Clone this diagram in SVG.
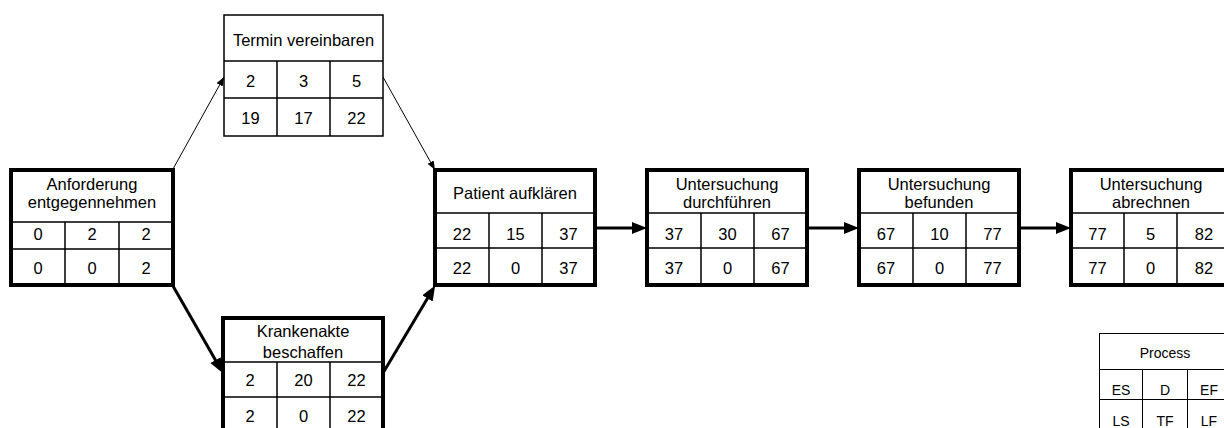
<svg xmlns="http://www.w3.org/2000/svg" width="1224" height="428" viewBox="0 0 1224 428">
  <style>
    text { font-family: "Liberation Sans", Arial, sans-serif; font-size: 16.5px; fill: #000; text-anchor: middle; }
    .box { fill: #fff; stroke: #000; }
    .crit { stroke-width: 4; }
    .norm { stroke-width: 1.5; }
    .grid { stroke: #000; stroke-width: 1.5; fill: none; }
    .thin { stroke: #000; stroke-width: 1; fill: none; }
    .bold { stroke: #000; stroke-width: 3; fill: none; }
    .legend text { font-size: 14px; }
  </style>
  <defs>
    <marker id="arrowBold" markerUnits="userSpaceOnUse" markerWidth="16" markerHeight="13" refX="1" refY="6" orient="auto">
      <path d="M0,0 L15,6 L0,12 z" fill="#000"/>
    </marker>
    <marker id="arrowThin" markerUnits="userSpaceOnUse" markerWidth="10" markerHeight="8" refX="9" refY="3.5" orient="auto">
      <path d="M0,0 L9,3.5 L0,7 z" fill="#000"/>
    </marker>
  </defs>
  <rect width="1224" height="428" fill="#fff"/>

  <!-- connectors -->
  <g id="connectors">
    <line class="thin" x1="173" y1="169" x2="224" y2="77" marker-end="url(#arrowThin)"/>
    <line class="thin" x1="383" y1="77" x2="435" y2="170" marker-end="url(#arrowThin)"/>
    <line class="bold" x1="173" y1="286" x2="216" y2="361" marker-end="url(#arrowBold)"/>
    <line class="bold" x1="383" y1="373" x2="428" y2="297.5" marker-end="url(#arrowBold)"/>
    <line class="bold" x1="597" y1="228" x2="633" y2="228" marker-end="url(#arrowBold)"/>
    <line class="bold" x1="808" y1="228" x2="845" y2="228" marker-end="url(#arrowBold)"/>
    <line class="bold" x1="1020" y1="228" x2="1057" y2="228" marker-end="url(#arrowBold)"/>
  </g>

  <!-- Anforderung entgegennehmen -->
  <g id="anforderung">
    <rect class="box crit" x="11" y="170" width="162" height="115"/>
    <path class="grid" d="M11,222 H173 M11,249 H173 M65,222 V285 M119,222 V285"/>
    <text x="92" y="190">Anforderung</text>
    <text x="92" y="208">entgegennehmen</text>
    <text x="38" y="240">0</text><text x="92" y="240">2</text><text x="146" y="240">2</text>
    <text x="38" y="274">0</text><text x="92" y="274">0</text><text x="146" y="274">2</text>
  </g>

  <!-- Termin vereinbaren -->
  <g id="termin">
    <rect class="box norm" x="224" y="15" width="159" height="121"/>
    <path class="grid" d="M224,61 H383 M224,98 H383 M277,61 V136 M330,61 V136"/>
    <text x="303.5" y="46">Termin vereinbaren</text>
    <text x="250.5" y="87">2</text><text x="303.5" y="87">3</text><text x="356.5" y="87">5</text>
    <text x="250.5" y="124">19</text><text x="303.5" y="124">17</text><text x="356.5" y="124">22</text>
  </g>

  <!-- Krankenakte beschaffen -->
  <g id="krankenakte">
    <rect class="box crit" x="223" y="318" width="160" height="114"/>
    <path class="grid" d="M223,362 H383 M223,397 H383 M277,362 V432 M330,362 V432"/>
    <text x="303" y="337">Krankenakte</text>
    <text x="303" y="358">beschaffen</text>
    <text x="250" y="386">2</text><text x="303.5" y="386">20</text><text x="356.5" y="386">22</text>
    <text x="250" y="421.5">2</text><text x="303.5" y="421.5">0</text><text x="356.5" y="421.5">22</text>
  </g>

  <!-- Patient aufklären -->
  <g id="patient">
    <rect class="box crit" x="435" y="170" width="160" height="115"/>
    <path class="grid" d="M435,213 H595 M435,248 H595 M489,213 V285 M542,213 V285"/>
    <text x="515" y="199">Patient aufklären</text>
    <text x="462" y="240">22</text><text x="515.5" y="240">15</text><text x="568.5" y="240">37</text>
    <text x="462" y="274">22</text><text x="515.5" y="274">0</text><text x="568.5" y="274">37</text>
  </g>

  <!-- Untersuchung durchführen -->
  <g id="durchfuehren">
    <rect class="box crit" x="647" y="170" width="160" height="115"/>
    <path class="grid" d="M647,213 H807 M647,248 H807 M701,213 V285 M754,213 V285"/>
    <text x="727" y="190">Untersuchung</text>
    <text x="727" y="208">durchführen</text>
    <text x="674" y="240">37</text><text x="727.5" y="240">30</text><text x="780.5" y="240">67</text>
    <text x="674" y="274">37</text><text x="727.5" y="274">0</text><text x="780.5" y="274">67</text>
  </g>

  <!-- Untersuchung befunden -->
  <g id="befunden">
    <rect class="box crit" x="859" y="170" width="160" height="115"/>
    <path class="grid" d="M859,213 H1019 M859,248 H1019 M913,213 V285 M966,213 V285"/>
    <text x="939" y="190">Untersuchung</text>
    <text x="939" y="208">befunden</text>
    <text x="886" y="240">67</text><text x="939.5" y="240">10</text><text x="992.5" y="240">77</text>
    <text x="886" y="274">67</text><text x="939.5" y="274">0</text><text x="992.5" y="274">77</text>
  </g>

  <!-- Untersuchung abrechnen -->
  <g id="abrechnen">
    <rect class="box crit" x="1071" y="170" width="160" height="115"/>
    <path class="grid" d="M1071,213 H1231 M1071,248 H1231 M1124,213 V285 M1177,213 V285"/>
    <text x="1151" y="190">Untersuchung</text>
    <text x="1151" y="208">abrechnen</text>
    <text x="1097.5" y="240">77</text><text x="1150.5" y="240">5</text><text x="1204" y="240">82</text>
    <text x="1097.5" y="274">77</text><text x="1150.5" y="274">0</text><text x="1204" y="274">82</text>
  </g>

  <!-- legend -->
  <g id="legend" class="legend">
    <rect class="box" stroke-width="1" x="1099.5" y="333.5" width="132" height="98"/>
    <path class="thin" d="M1099.5,369.5 H1231.5 M1099.5,399.5 H1231.5 M1142.5,369.5 V431 M1187.5,369.5 V431"/>
    <text x="1165" y="358">Process</text>
    <text x="1121" y="395">ES</text><text x="1165" y="395">D</text><text x="1209" y="395">EF</text>
    <text x="1121" y="426">LS</text><text x="1165" y="426">TF</text><text x="1209" y="426">LF</text>
  </g>
</svg>
